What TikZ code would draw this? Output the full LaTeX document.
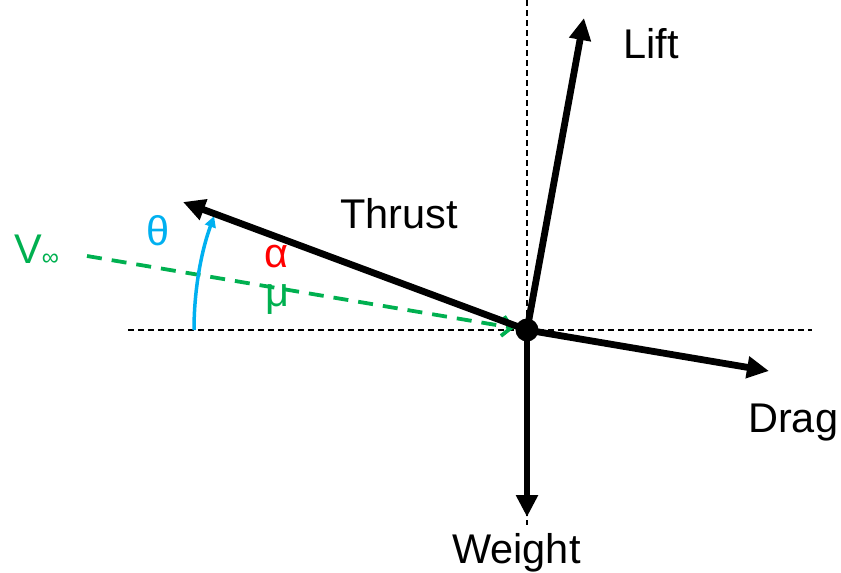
\documentclass[tikz,border=0pt]{standalone}
\usepackage{fontspec}
\setmainfont{Liberation Sans}
\usetikzlibrary{arrows.meta}
\definecolor{vgreen}{RGB}{0,176,80}
\definecolor{tblue}{RGB}{0,176,240}
\begin{document}
\begin{tikzpicture}[x=1pt,y=-1pt,
  force/.style={line width=6.8pt,-{Triangle[length=22pt,width=21pt]}},
  guide/.style={line width=1.4pt,dash pattern=on 6pt off 4pt},
  lbl/.style={inner sep=0pt,anchor=base west,font=\fontsize{41.5}{44}\selectfont},
  vel/.style={vgreen,line width=3.8pt,dash pattern=on 15pt off 10pt,-{Straight Barb[length=9pt,width=20pt]}},
  ang/.style={tblue,line width=3.5pt,-{Triangle[length=11pt,width=11pt]}}]
\useasboundingbox (0,0) rectangle (841,573);
% key points
\coordinate (O) at (527,330);
\coordinate (lt) at (584,18);
\coordinate (th) at (183,202);
\coordinate (dr) at (769,371);
\coordinate (wt) at (527,517);
\coordinate (hl) at (128,330);
\coordinate (hr) at (812,330);
\coordinate (vt) at (527,0);
\coordinate (vb) at (527,525);
\coordinate (gs) at (87,256);
\coordinate (ge) at (514,328);
\coordinate (as) at (194,330);
% guides
\draw[guide] (hl) -- (hr);
\draw[guide] (vt) -- (vb);
% velocity
\draw[vel] (gs) -- (ge);
% angle arc
\draw[ang] (as) arc[start angle=180,end angle=200,radius=333];
% forces
\draw[force] (O) -- (lt);
\draw[force] (O) -- (th);
\draw[force] (O) -- (dr);
\draw[force] (O) -- (wt);
\node[circle,fill=black,minimum size=23pt,inner sep=0pt] (dot) at (O) {};
% labels
\node[lbl] (liftl) at (623,58) {Lift};
\node[lbl] (thrustl) at (340,228) {Thrust};
\node[lbl] (dragl) at (748,432) {Drag};
\node[lbl] (weightl) at (452,563) {Weight};
\node[lbl,text=red] (alpha) at (264,267) {α};
\node[lbl,text=vgreen] (mu) at (265,306) {μ};
\node[lbl,text=tblue] (theta) at (146,245) {θ};
\node[lbl,text=vgreen] (vinf) at (14,263) {V\raisebox{-2pt}{\fontsize{24}{26}\selectfont ∞}};
\end{tikzpicture}
\end{document}
